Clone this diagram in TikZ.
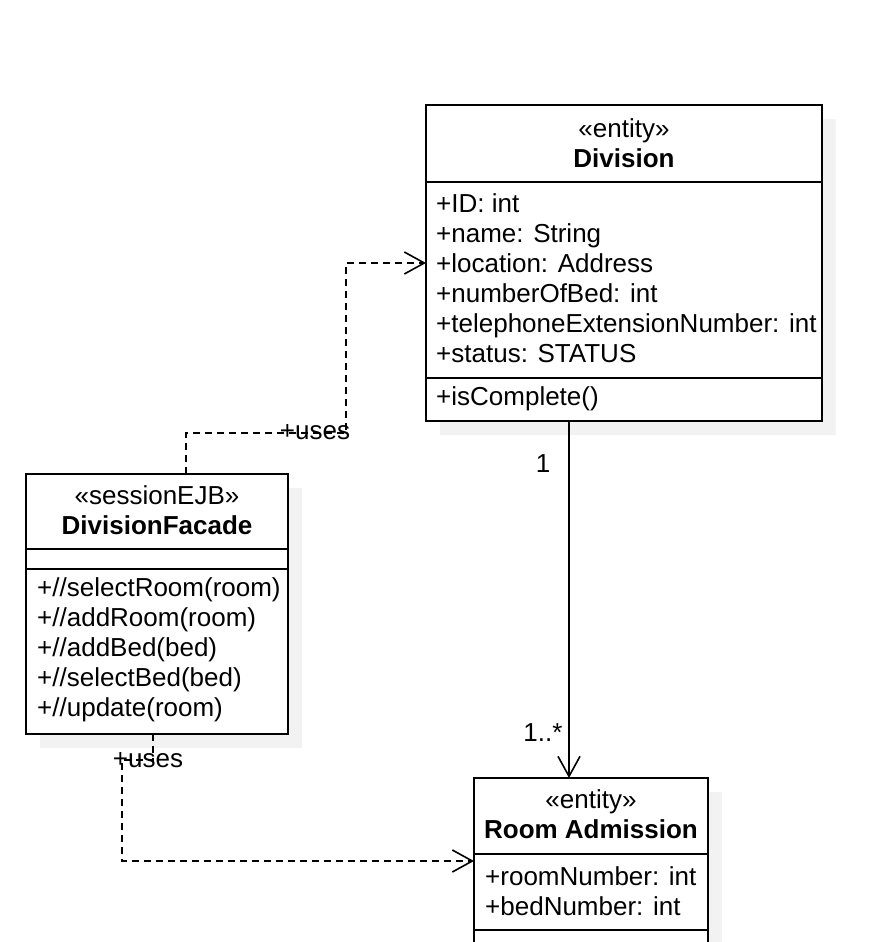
\documentclass[tikz,border=0pt]{standalone}
\usepackage{fontspec}
\setmainfont{Liberation Sans}
\usepackage{tikz}
\usetikzlibrary{arrows.meta, shadows}
\newcommand{\umlfont}{\fontsize{26}{30}\selectfont}

\tikzset{
  classbox/.style={draw, line width=1.8pt, fill=white, inner sep=0pt, outer sep=0pt,
    drop shadow={shadow xshift=14pt, shadow yshift=-14pt, fill=black!5, opacity=1}},
  compartment/.style={line width=1.8pt},
  head/.style={font=\umlfont, align=center, inner sep=0pt},
  members/.style={font=\umlfont, align=left, anchor=west, inner sep=0pt},
  tag/.style={font=\umlfont, inner sep=0pt},
  dep/.style={line width=1.6pt, dash pattern=on 7pt off 5pt, -{Straight Barb[length=20pt, width=22pt]}},
  assoc/.style={line width=1.6pt, -{Straight Barb[length=20pt, width=22pt]}}
}

\begin{document}
\begin{tikzpicture}[x=1pt, y=-1pt]
  \useasboundingbox (0,0) rectangle (896,942);
  \clip (0,0) rectangle (896,942);

  % class boxes
  \node[classbox, minimum width=396pt, minimum height=316pt] (division) at (624,263) {};
  \node[classbox, minimum width=262pt, minimum height=260pt] (facade) at (157,604) {};
  \node[classbox, minimum width=234pt, minimum height=166pt] (room) at (591,861) {};

  % compartments
  \draw[compartment] (division.west |- 0,182) -- (division.east |- 0,182);
  \draw[compartment] (division.west |- 0,378) -- (division.east |- 0,378);
  \draw[compartment] (facade.west |- 0,549) -- (facade.east |- 0,549);
  \draw[compartment] (facade.west |- 0,569) -- (facade.east |- 0,569);
  \draw[compartment] (room.west |- 0,854) -- (room.east |- 0,854);
  \draw[compartment] (room.west |- 0,930) -- (room.east |- 0,930);

  % Division
  \node[head] (divisionname) at (624,143) {«entity»\\\textbf{Division}};
  \node[members] (divisionattrs) at (436,278) {+ID: int\\+name: String\\+location: Address\\+numberOfBed: int\\+telephoneExtensionNumber: int\\+status: STATUS};
  \node[members] (divisionops) at (436,399) {+isComplete()};

  % DivisionFacade
  \node[head] (facadename) at (157,510) {«sessionEJB»\\\textbf{DivisionFacade}};
  \node[members] (facadeops) at (37,650) {+//selectRoom(room)\\+//addRoom(room)\\+//addBed(bed)\\+//selectBed(bed)\\+//update(room)};

  % Room Admission
  \node[head] (roomname) at (591,814) {«entity»\\\textbf{Room Admission}};
  \node[members] (roomattrs) at (485,891) {+roomNumber: int\\+bedNumber: int};

  % connectors
  \draw[dep] ([xshift=29pt]facade.north) -- ++(0,-41) -| (346,263) -- (division.west);
  \coordinate (assoctop) at ([xshift=-55pt]division.south);
  \draw[assoc] (assoctop) -- (assoctop |- room.north);
  \draw[dep] ([xshift=-4pt]facade.south) -- ++(0,26) -- ++(-31,0) |- (room.west);

  % labels
  \node[tag] (usestop) at (315,432) {+uses};
  \node[tag] (usesbottom) at (148,760) {+uses};
  \node[tag] (multone) at (543,464) {1};
  \node[tag] (multmany) at (543,733) {1..*};
\end{tikzpicture}
\end{document}
